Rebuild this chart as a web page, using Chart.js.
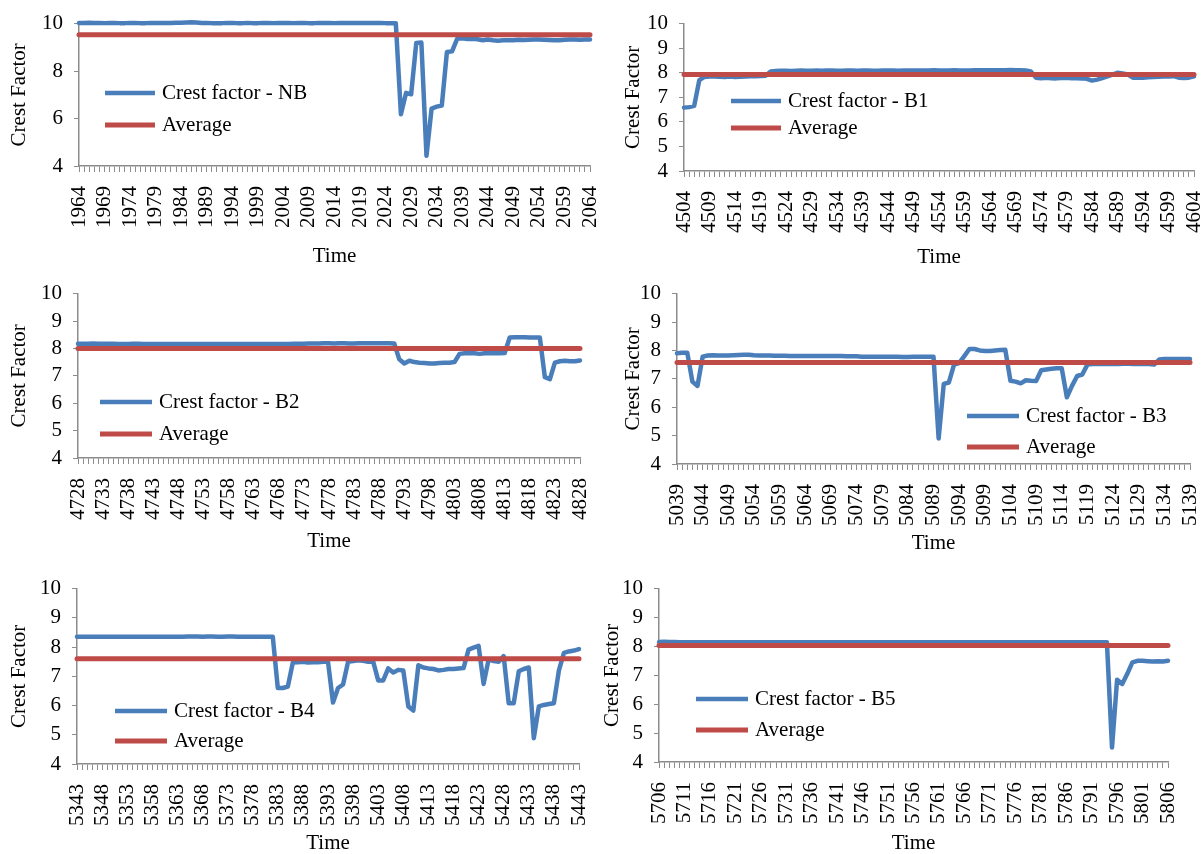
<!DOCTYPE html>
<html>
<head>
<meta charset="utf-8">
<script src="https://cdn.jsdelivr.net/npm/chart.js@4.4.1/dist/chart.umd.min.js"></script>
<style>
  html, body { margin: 0; padding: 0; background: #fff; width: 1202px; height: 854px; overflow: hidden; }
  canvas { position: absolute; }
</style>
</head>
<body>
<canvas id="pNB"></canvas>
<canvas id="pB1"></canvas>
<canvas id="pB2"></canvas>
<canvas id="pB3"></canvas>
<canvas id="pB4"></canvas>
<canvas id="pB5"></canvas>
<script>
// ---- Data: crest factor per time step, one run of 101 samples per bearing ----
const startNB = 1964, startB1 = 4504, startB2 = 4728, startB3 = 5039, startB4 = 5343, startB5 = 5706;

const cfNB = [
  10.03,10.03,10.04,10.03,10.03,10.02,10.03,10.03,10.02,10.02,
  10.03,10.03,10.02,10.02,10.03,10.03,10.03,10.03,10.03,10.04,
  10.04,10.05,10.06,10.05,10.03,10.03,10.02,10.02,10.02,10.03,
  10.03,10.02,10.02,10.03,10.02,10.02,10.03,10.03,10.02,10.03,
  10.03,10.03,10.02,10.03,10.03,10.02,10.02,10.03,10.03,10.03,
  10.02,10.03,10.03,10.03,10.03,10.03,10.03,10.03,10.03,10.03,
  10.02,10.02,10.01,6.18,7.08,7.02,9.18,9.2,4.43,6.42,
  6.5,6.55,8.8,8.83,9.36,9.38,9.35,9.36,9.34,9.3,
  9.33,9.3,9.28,9.3,9.3,9.3,9.32,9.31,9.32,9.33,
  9.33,9.32,9.31,9.3,9.3,9.32,9.33,9.33,9.32,9.33,
  9.33
];
const cfB1 = [
  6.58,6.6,6.65,7.7,7.83,7.85,7.85,7.84,7.83,7.85,
  7.83,7.84,7.85,7.86,7.86,7.87,7.88,8.05,8.07,8.08,
  8.08,8.07,8.08,8.09,8.08,8.08,8.09,8.08,8.09,8.09,
  8.08,8.08,8.09,8.09,8.08,8.09,8.09,8.08,8.08,8.09,
  8.09,8.09,8.08,8.09,8.09,8.09,8.09,8.09,8.09,8.1,
  8.09,8.09,8.09,8.1,8.09,8.09,8.09,8.1,8.1,8.1,
  8.1,8.1,8.1,8.1,8.11,8.1,8.1,8.09,8.05,7.8,
  7.78,7.8,7.78,7.77,7.79,7.8,7.78,7.78,7.77,7.75,
  7.68,7.72,7.78,7.85,7.92,8.0,7.97,7.93,7.8,7.8,
  7.8,7.82,7.83,7.84,7.85,7.85,7.86,7.8,7.79,7.8,
  7.85
];
const cfB2 = [
  8.17,8.17,8.17,8.18,8.17,8.17,8.17,8.17,8.16,8.16,
  8.16,8.17,8.17,8.16,8.16,8.16,8.16,8.16,8.16,8.16,
  8.16,8.16,8.16,8.16,8.16,8.16,8.16,8.16,8.16,8.16,
  8.16,8.16,8.16,8.16,8.16,8.16,8.16,8.16,8.16,8.16,
  8.16,8.16,8.16,8.17,8.17,8.17,8.18,8.18,8.18,8.19,
  8.19,8.18,8.19,8.19,8.18,8.18,8.19,8.19,8.19,8.19,
  8.19,8.19,8.19,8.18,7.6,7.45,7.55,7.5,7.48,7.47,
  7.45,7.45,7.47,7.48,7.48,7.5,7.8,7.82,7.83,7.82,
  7.8,7.82,7.83,7.82,7.82,7.83,8.4,8.41,8.41,8.41,
  8.4,8.4,8.4,6.95,6.88,7.48,7.53,7.55,7.53,7.53,
  7.56
];
const cfB3 = [
  7.9,7.92,7.92,6.9,6.75,7.78,7.82,7.83,7.82,7.82,
  7.82,7.83,7.84,7.85,7.85,7.83,7.82,7.82,7.82,7.81,
  7.81,7.81,7.8,7.8,7.8,7.8,7.8,7.8,7.8,7.8,
  7.8,7.8,7.8,7.79,7.79,7.79,7.78,7.78,7.78,7.78,
  7.78,7.78,7.78,7.78,7.77,7.77,7.78,7.78,7.78,7.78,
  7.78,4.9,6.82,6.87,7.5,7.55,7.8,8.05,8.05,8.0,
  7.98,7.98,8.0,8.01,8.02,6.93,6.9,6.84,6.95,6.93,
  6.92,7.3,7.33,7.35,7.37,7.37,6.35,6.75,7.1,7.15,
  7.5,7.52,7.52,7.52,7.53,7.52,7.52,7.53,7.53,7.52,
  7.52,7.52,7.52,7.5,7.68,7.7,7.7,7.7,7.7,7.7,
  7.7
];
const cfB4 = [
  8.35,8.35,8.35,8.35,8.35,8.35,8.35,8.35,8.35,8.35,
  8.35,8.35,8.35,8.35,8.35,8.35,8.35,8.35,8.35,8.35,
  8.35,8.35,8.36,8.36,8.36,8.35,8.36,8.36,8.35,8.35,
  8.36,8.36,8.35,8.35,8.35,8.35,8.35,8.35,8.35,8.35,
  6.6,6.6,6.65,7.47,7.48,7.5,7.47,7.48,7.48,7.5,
  7.5,6.1,6.6,6.72,7.5,7.52,7.55,7.53,7.5,7.5,
  6.86,6.86,7.27,7.13,7.22,7.2,5.97,5.83,7.38,7.3,
  7.27,7.25,7.2,7.22,7.25,7.25,7.27,7.28,7.91,7.98,
  8.04,6.74,7.58,7.52,7.5,7.69,6.08,6.08,7.17,7.25,
  7.3,4.88,5.97,6.02,6.05,6.08,7.2,7.8,7.85,7.88,
  7.93
];
const cfB5 = [
  8.15,8.16,8.15,8.15,8.14,8.14,8.14,8.14,8.14,8.14,
  8.14,8.14,8.14,8.14,8.14,8.14,8.14,8.14,8.14,8.14,
  8.14,8.14,8.14,8.14,8.14,8.14,8.14,8.14,8.14,8.14,
  8.14,8.14,8.14,8.14,8.14,8.14,8.14,8.14,8.14,8.14,
  8.14,8.14,8.14,8.14,8.14,8.14,8.14,8.14,8.14,8.14,
  8.14,8.14,8.14,8.14,8.14,8.14,8.14,8.14,8.14,8.14,
  8.14,8.14,8.14,8.14,8.14,8.14,8.14,8.14,8.14,8.14,
  8.14,8.14,8.14,8.14,8.14,8.14,8.14,8.14,8.14,8.14,
  8.14,8.14,8.14,8.14,8.14,8.14,8.14,8.14,8.14,4.5,
  6.85,6.7,7.05,7.45,7.5,7.5,7.49,7.48,7.49,7.48,
  7.5
];

// Mean crest factor of each run (drawn as a flat reference line)
const avgNB = 9.53, avgB1 = 7.93, avgB2 = 8.0, avgB3 = 7.57, avgB4 = 7.6, avgB5 = 8.03;

// ---- Styling ----
const FONT = '"Liberation Serif", "Times New Roman", serif';
const FS = 21;           // title / legend / tick size
const HALF_LINE = FS * 1.2 / 2;
const BLUE = '#4a7ebb';
const RED = '#be4b48';
const AXIS = '#8c8c8c';

function timeLabels(start, n) {
  const out = [];
  for (let i = 0; i < n; i++) out.push(String(start + i));
  return out;
}

// Legend drawn inside the plot box, lines + labels
const innerLegend = {
  id: 'innerLegend',
  afterDraw(chart, args, o) {
    const ctx = chart.ctx;
    chart.data.datasets.forEach((ds, i) => {
      const y = o.y + i * o.gap;
      ctx.save();
      ctx.strokeStyle = ds.borderColor;
      ctx.lineWidth = ds.borderWidth;
      ctx.lineCap = 'butt';
      ctx.beginPath();
      ctx.moveTo(o.x, y);
      ctx.lineTo(o.x + o.len, y);
      ctx.stroke();
      ctx.fillStyle = '#000';
      ctx.font = FS + 'px ' + FONT;
      ctx.textBaseline = 'middle';
      ctx.textAlign = 'left';
      ctx.fillText(ds.label, o.x + o.len + 7, y);
      ctx.restore();
    });
  }
};

// Each panel gets its own canvas; the plot box is pinned to the given rectangle
function panel(id, box, area, yTitleX, xTitleY, start, values, avg, name, step, leg) {
  const cv = document.getElementById(id);
  cv.width = box.w; cv.height = box.h;
  cv.style.left = box.x + 'px';
  cv.style.top = box.y + 'px';

  const padLeft = yTitleX - box.x - HALF_LINE;
  const yWidth = area.l - box.x - padLeft;
  const padTop = area.t - box.y;
  const padRight = box.x + box.w - area.r;
  const titleBottom = xTitleY + HALF_LINE;
  const xHeight = titleBottom - area.b;
  const padBottom = box.y + box.h - titleBottom;

  const labels = timeLabels(start, values.length);

  return new Chart(cv, {
    type: 'line',
    data: {
      labels,
      datasets: [
        { label: 'Crest factor - ' + name, data: values, borderColor: BLUE, borderWidth: 4.5, order: 1, clip: false },
        { label: 'Average', data: labels.map(() => avg), borderColor: RED, borderWidth: 5, order: 0, clip: false }
      ]
    },
    options: {
      responsive: false,
      animation: false,
      devicePixelRatio: 1,
      layout: { padding: { left: padLeft, top: padTop, right: padRight, bottom: padBottom } },
      elements: {
        point: { radius: 0, hoverRadius: 0 },
        line: { tension: 0, borderCapStyle: 'round', borderJoinStyle: 'round', fill: false }
      },
      plugins: {
        legend: { display: false },
        tooltip: { enabled: false },
        innerLegend: { x: leg.x - box.x, y: leg.y - box.y, gap: leg.gap, len: leg.len }
      },
      scales: {
        x: {
          type: 'category',
          offset: false,
          grid: { display: true, drawOnChartArea: false, drawTicks: true, tickLength: 6, color: AXIS, tickColor: AXIS, lineWidth: 1 },
          border: { display: true, color: AXIS, width: 1.5 },
          ticks: {
            autoSkip: false, minRotation: 90, maxRotation: 90, padding: 14,
            color: '#000', font: { family: FONT, size: FS },
            callback: (v, i) => (i % 5 === 0 ? labels[i] : '')
          },
          title: { display: true, text: 'Time', color: '#000', font: { family: FONT, size: FS }, padding: { top: 0, bottom: 0 } },
          afterFit: (s) => { s.height = xHeight; }
        },
        y: {
          min: 4, max: 10,
          grid: { display: true, drawOnChartArea: false, drawTicks: true, tickLength: 5, color: AXIS, tickColor: AXIS },
          border: { display: true, color: AXIS, width: 1.5 },
          ticks: { stepSize: step, autoSkip: false, maxTicksLimit: 20, padding: 11, color: '#000', font: { family: FONT, size: FS } },
          title: { display: true, text: 'Crest Factor', color: '#000', font: { family: FONT, size: FS }, padding: { top: 0, bottom: 0 } },
          afterFit: (s) => { s.width = yWidth; }
        }
      }
    },
    plugins: [innerLegend]
  });
}

panel('pNB', { x: 0, y: 0, w: 660, h: 280 }, { l: 79, r: 590, t: 21, b: 166 }, 19, 256,
  startNB, cfNB, avgNB, 'NB', 2, { x: 105, y: 93, gap: 32, len: 50 });
panel('pB1', { x: 600, y: 0, w: 660, h: 280 }, { l: 684, r: 1194, t: 15, b: 171 }, 633, 257,
  startB1, cfB1, avgB1, 'B1', 1, { x: 731, y: 101, gap: 27, len: 50 });
panel('pB2', { x: 0, y: 270, w: 660, h: 295 }, { l: 78, r: 580, t: 288, b: 458 }, 19, 541,
  startB2, cfB2, avgB2, 'B2', 1, { x: 100, y: 402, gap: 32, len: 52 });
panel('pB3', { x: 600, y: 270, w: 660, h: 295 }, { l: 677, r: 1190, t: 289, b: 464 }, 633, 543,
  startB3, cfB3, avgB3, 'B3', 1, { x: 967, y: 416, gap: 31, len: 52 });
panel('pB4', { x: 0, y: 565, w: 660, h: 300 }, { l: 77, r: 579, t: 581, b: 764 }, 19, 843,
  startB4, cfB4, avgB4, 'B4', 1, { x: 115, y: 711, gap: 30, len: 52 });
panel('pB5', { x: 600, y: 565, w: 660, h: 300 }, { l: 659, r: 1168, t: 582, b: 762 }, 612, 843,
  startB5, cfB5, avgB5, 'B5', 1, { x: 696, y: 699, gap: 31, len: 52 });
</script>
</body>
</html>
